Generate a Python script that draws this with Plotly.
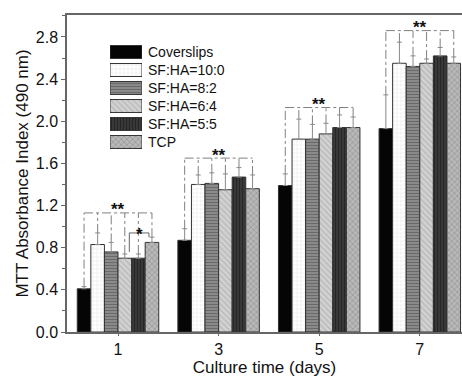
import plotly.graph_objects as go

# ---------------- data ----------------
days = [1, 3, 5, 7]
series_names = ["Coverslips", "SF:HA=10:0", "SF:HA=8:2", "SF:HA=6:4", "SF:HA=5:5", "TCP"]
coverslips = [0.41, 0.87, 1.39, 1.93]
sfha_10_0 = [0.83, 1.40, 1.83, 2.55]
sfha_8_2 = [0.76, 1.41, 1.83, 2.52]
sfha_6_4 = [0.70, 1.35, 1.88, 2.55]
sfha_5_5 = [0.70, 1.47, 1.94, 2.62]
tcp = [0.85, 1.36, 1.94, 2.55]
err_coverslips = [0.02, 0.11, 0.11, 0.32]
err_10_0 = [0.11, 0.09, 0.19, 0.20]
err_8_2 = [0.09, 0.10, 0.14, 0.10]
err_6_4 = [0.04, 0.15, 0.10, 0.04]
err_5_5 = [0.04, 0.09, 0.12, 0.08]
err_tcp = [0.05, 0.13, 0.10, 0.06]
bracket_levels = [1.13, 1.65, 2.13, 2.86]
bracket_labels = ["**", "**", "**", "**"]
single_star_level = 0.94
y_tick_vals = [0.0, 0.4, 0.8, 1.2, 1.6, 2.0, 2.4, 2.8]
y_tick_text = ["0.0", "0.4", "0.8", "1.2", "1.6", "2.0", "2.4", "2.8"]
x_title = "Culture time (days)"
y_title = "MTT Absorbance Index (490 nm)"

values = [coverslips, sfha_10_0, sfha_8_2, sfha_6_4, sfha_5_5, tcp]
errors = [err_coverslips, err_10_0, err_8_2, err_6_4, err_5_5, err_tcp]

# ---------------- styles ----------------
styles = [
    dict(color="#050505", fg="#050505", shape="", size=4, sol=0.3),
    dict(color="#ffffff", fg="#b0b0b0", shape="+", size=4, sol=0.15),
    dict(color="#8a8a8a", fg="#4a4a4a", shape="-", size=3, sol=0.35),
    dict(color="#d2d2d2", fg="#9a9a9a", shape="\\", size=4, sol=0.3),
    dict(color="#3a3a3a", fg="#111111", shape="|", size=3, sol=0.4),
    dict(color="#b8b8b8", fg="#6a6a6a", shape="x", size=4, sol=0.3),
]

W, H = 462, 377
ML, MR, MT, MB = 67, 0, 15, 45
PW, PH = W - ML - MR, H - MT - MB


def px_x(px):
    return (px - ML) / PW


def px_y(py):
    return (H - MB - py) / PH


fig = go.Figure()

bargap = 0.19
n = len(series_names)
spacing = days[1] - days[0]
bw = (1 - bargap) * spacing / n
offsets = [-(1 - bargap) * spacing / 2 + bw / 2 + i * bw for i in range(n)]

for i, name in enumerate(series_names):
    st = styles[i]
    fig.add_trace(go.Bar(
        x=days, y=values[i], name=name, offsetgroup=str(i),
        marker=dict(color=st["color"], line=dict(color="#333333", width=1),
                    pattern=dict(shape=st["shape"], fgcolor=st["fg"], size=st["size"],
                                 solidity=st["sol"])),
        error_y=dict(type="data", symmetric=False, array=errors[i],
                     arrayminus=[0] * len(days), color="#8a8a8a", thickness=1, width=2.5),
        showlegend=False,
    ))

# custom legend swatches (wide boxes) on an overlay axis
for i, name in enumerate(series_names):
    st = styles[i]
    fig.add_trace(go.Bar(
        x=[1], y=[name], orientation="h", xaxis="x2", yaxis="y2",
        offsetgroup="leg", width=0.72,
        marker=dict(color=st["color"], line=dict(color="#333333", width=1),
                    pattern=dict(shape=st["shape"], fgcolor=st["fg"], size=st["size"],
                                 solidity=st["sol"])),
        showlegend=False, hoverinfo="skip",
    ))

leg_top, leg_step = 43, 18
leg_bottom = leg_top + leg_step * n
for i, name in enumerate(series_names):
    fig.add_annotation(
        x=px_x(146), y=px_y(leg_top + leg_step * (i + 0.5)), xref="paper", yref="paper",
        text=name, showarrow=False, xanchor="left", yanchor="middle",
        font=dict(size=14, color="#111111", family="Liberation Sans, Arial"),
    )

# significance brackets
shapes = []
bcol = "#808080"
for d, day in enumerate(days):
    lvl = bracket_levels[d]
    xl = day + offsets[0]
    xr = day + offsets[-1]
    shapes.append(dict(type="line", x0=xl, x1=xr, y0=lvl, y1=lvl, xref="x", yref="y",
                       line=dict(color=bcol, width=1, dash="dashdot")))
    for i in range(n):
        top = values[i][d] + errors[i][d]
        shapes.append(dict(type="line", x0=day + offsets[i], x1=day + offsets[i],
                           y0=top, y1=lvl, xref="x", yref="y",
                           line=dict(color=bcol, width=1, dash="dashdot")))
    fig.add_annotation(x=day, y=lvl, xref="x", yref="y", text="<b>" + bracket_labels[d] + "</b>",
                       showarrow=False, yanchor="middle", yshift=3,
                       font=dict(size=17, color="#111111", family="Liberation Sans, Arial"))

# single-star bracket at day 1 between SF:HA=5:5 and TCP
d0 = days[0]
sx0 = d0 + offsets[4] - 0.18
sx1 = d0 + offsets[5] - 0.06
scol = "#666666"
shapes.append(dict(type="line", x0=sx0, x1=sx1, y0=single_star_level, y1=single_star_level,
                   xref="x", yref="y", line=dict(color=scol, width=1)))
shapes.append(dict(type="line", x0=sx0, x1=sx0, y0=values[4][0] + errors[4][0] + 0.02,
                   y1=single_star_level, xref="x", yref="y", line=dict(color=scol, width=1)))
shapes.append(dict(type="line", x0=sx1, x1=sx1, y0=values[5][0] + errors[5][0],
                   y1=single_star_level, xref="x", yref="y", line=dict(color=scol, width=1)))
fig.add_annotation(x=(sx0 + sx1) / 2, y=single_star_level, xref="x", yref="y", text="<b>*</b>",
                   showarrow=False, yanchor="middle", yshift=-2,
                   font=dict(size=17, color="#111111", family="Liberation Sans, Arial"))

fig.update_layout(
    width=W, height=H,
    margin=dict(l=ML, r=MR, t=MT, b=MB, pad=0),
    paper_bgcolor="white", plot_bgcolor="white",
    barmode="group", bargap=bargap, bargroupgap=0,
    font=dict(family="Liberation Sans, Arial", color="#111111"),
    shapes=shapes,
    xaxis=dict(
        range=[-0.014, days[0] + (W - 118) / 50.3],
        tickvals=days, ticktext=[str(v) for v in days],
        ticks="outside", ticklen=2, tickcolor="#666666",
        showline=True, linecolor="#666666", linewidth=1.5, mirror=True,
        showgrid=False, zeroline=False,
        tickfont=dict(size=16, color="#111111"),
        title=dict(text=x_title, font=dict(size=17, color="#111111"), standoff=3),
    ),
    yaxis=dict(
        range=[0, 3.008],
        tickvals=y_tick_vals, ticktext=y_tick_text,
        ticks="outside", ticklen=4, tickcolor="#666666",
        minor=dict(dtick=0.2, tick0=0, ticks="outside", ticklen=3, tickcolor="#666666"),
        showline=True, linecolor="#666666", linewidth=1.5, mirror=False,
        showgrid=False, zeroline=False,
        tickfont=dict(size=16, color="#111111"),
        title=dict(text=y_title, font=dict(size=17, color="#111111"), standoff=3),
    ),
    xaxis2=dict(domain=[px_x(110), px_x(142)], range=[0, 1], anchor="y2",
                visible=False, fixedrange=True),
    yaxis2=dict(domain=[px_y(leg_bottom), px_y(leg_top)], anchor="x2",
                categoryorder="array", categoryarray=series_names,
                autorange="reversed", visible=False, fixedrange=True),
)

fig.write_html(
    "out.html",
    config={"displayModeBar": False},
    post_script="document.body.style.margin='0';document.body.style.padding='0';",
)
